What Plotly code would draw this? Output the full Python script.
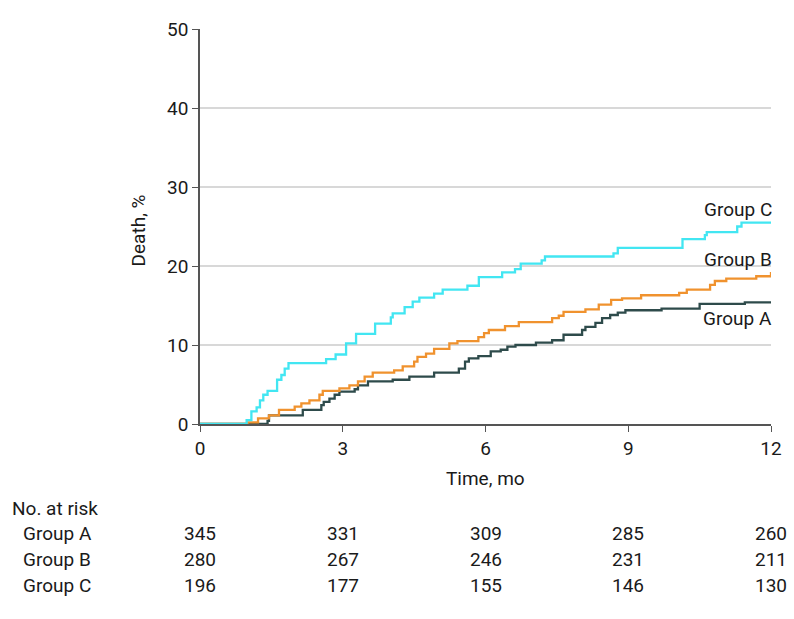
import plotly.graph_objects as go

# ---- data ----
time_a = [0, 1.42, 1.45, 2.16, 2.55, 2.60, 2.72, 2.83, 2.93, 3.25, 3.32, 3.53, 4.05, 4.40,
          4.92, 5.44, 5.57, 5.65, 5.85, 6.11, 6.32, 6.46, 6.63, 7.06, 7.40, 7.64, 8.03,
          8.10, 8.31, 8.45, 8.62, 8.78, 8.94, 9.70, 10.50, 11.45, 12.04]
death_a = [0, 0.4, 1.1, 1.8, 2.4, 2.8, 3.2, 3.7, 4.1, 4.4, 4.9, 5.4, 5.6, 6.0,
           6.5, 7.0, 7.9, 8.3, 8.6, 9.2, 9.4, 9.8, 10.0, 10.3, 10.6, 11.3, 11.9,
           12.3, 12.8, 13.4, 13.8, 14.1, 14.4, 14.6, 15.2, 15.4, 15.4]

time_b = [0, 1.00, 1.22, 1.45, 1.66, 1.99, 2.13, 2.30, 2.51, 2.58, 2.93, 3.14, 3.32, 3.46,
          3.63, 4.08, 4.26, 4.50, 4.57, 4.75, 4.92, 5.24, 5.41, 5.85, 5.97, 6.07, 6.41,
          6.70, 7.40, 7.54, 7.64, 8.10, 8.38, 8.64, 8.87, 9.27, 10.07, 10.23, 10.72,
          10.82, 11.06, 11.69, 12.00, 12.04]
death_b = [0, 0.2, 0.7, 1.1, 1.8, 2.2, 2.6, 3.0, 3.7, 4.2, 4.5, 4.9, 5.4, 6.0,
           6.5, 6.8, 7.3, 7.9, 8.5, 8.9, 9.5, 10.2, 10.5, 11.0, 11.5, 11.9, 12.4,
           12.9, 13.4, 13.7, 14.2, 14.5, 15.1, 15.7, 15.9, 16.3, 16.6, 17.0, 17.6,
           18.1, 18.4, 18.7, 19.1, 19.1]

time_c = [0, 0.98, 1.08, 1.19, 1.26, 1.33, 1.42, 1.62, 1.71, 1.78, 1.86, 2.65, 2.85, 3.07,
          3.28, 3.68, 4.01, 4.05, 4.30, 4.47, 4.61, 4.92, 5.10, 5.62, 5.86, 6.35, 6.62,
          6.74, 7.18, 7.25, 8.69, 8.78, 10.14, 10.61, 10.65, 11.29, 11.38, 12.04]
death_c = [0, 0.5, 1.6, 2.1, 3.0, 3.7, 4.2, 5.6, 6.2, 7.0, 7.7, 8.2, 8.8, 10.2,
           11.4, 12.7, 13.5, 14.0, 14.8, 15.5, 16.0, 16.5, 17.0, 17.5, 18.6, 19.2, 19.6,
           20.3, 20.7, 21.2, 21.6, 22.3, 23.4, 23.9, 24.3, 25.0, 25.5, 25.5]

groups = ["Group A", "Group B", "Group C"]
risk_times = [0, 3, 6, 9, 12]
risk_a = [345, 331, 309, 285, 260]
risk_b = [280, 267, 246, 231, 211]
risk_c = [196, 177, 155, 146, 130]
x_ticks = [0, 3, 6, 9, 12]
y_ticks = [0, 10, 20, 30, 40, 50]

# ---- styling ----
FONT = "Roboto"
FS = 19
TXT = "#1a1a1a"
colors = ["#2E4B4B", "#F0922E", "#42E6F2"]

W, H = 794, 619
L, R, T, B = 200, 19, 29, 195
PW, PH = W - L - R, H - T - B


def py_to_paper(py):
    return (H - B - py) / PH


def px_to_paper(px):
    return (px - L) / PW


fig = go.Figure()
series = [(time_a, death_a), (time_b, death_b), (time_c, death_c)]
for name, (t, d), col in zip(groups, series, colors):
    fig.add_trace(go.Scatter(x=t, y=d, mode="lines", name=name,
                             line=dict(color=col, width=2.3, shape="hv"),
                             cliponaxis=False, showlegend=False))

annotations = []
# curve labels
label_y = [13.4, 20.8, 27.2]
for name, ly in zip(groups, label_y):
    annotations.append(dict(x=12, y=ly, xref="x", yref="y", text=name,
                            xanchor="right", yanchor="middle", showarrow=False,
                            xshift=3,
                            font=dict(family=FONT, size=FS, color=TXT)))

# axis titles
annotations.append(dict(x=px_to_paper(138), y=py_to_paper(230), xref="paper", yref="paper",
                        text="Death, %", textangle=-90, showarrow=False,
                        xanchor="center", yanchor="middle",
                        font=dict(family=FONT, size=FS, color=TXT)))
annotations.append(dict(x=0.5, y=py_to_paper(478), xref="paper", yref="paper",
                        text="Time, mo", showarrow=False,
                        xanchor="center", yanchor="middle",
                        font=dict(family=FONT, size=FS, color=TXT)))

# number at risk table
annotations.append(dict(x=px_to_paper(9), y=py_to_paper(508), xref="paper", yref="paper",
                        text="No. at risk", showarrow=False, xanchor="left", yanchor="middle",
                        font=dict(family=FONT, size=FS, color=TXT)))
row_y = [533, 559, 585]
for name, vals, ry in zip(groups, [risk_a, risk_b, risk_c], row_y):
    annotations.append(dict(x=px_to_paper(20), y=py_to_paper(ry), xref="paper", yref="paper",
                            text=name, showarrow=False, xanchor="left", yanchor="middle",
                            font=dict(family=FONT, size=FS, color=TXT)))
    for tt, v in zip(risk_times, vals):
        annotations.append(dict(x=tt, y=py_to_paper(ry), xref="x", yref="paper",
                                text=str(v), showarrow=False, xanchor="center",
                                yanchor="middle",
                                font=dict(family=FONT, size=FS, color=TXT)))

fig.update_layout(
    width=W, height=H,
    margin=dict(l=L, r=R, t=T, b=B, pad=0),
    paper_bgcolor="white", plot_bgcolor="white",
    font=dict(family=FONT, size=FS, color=TXT),
    annotations=annotations,
    xaxis=dict(range=[0, 12], tickvals=x_ticks, ticktext=[str(v) for v in x_ticks],
               showgrid=False, zeroline=False, showline=True, linecolor="#555555",
               linewidth=1.5, ticks="outside", ticklen=6, tickcolor="#555555",
               tickwidth=1.2, tickfont=dict(family=FONT, size=FS, color=TXT)),
    yaxis=dict(range=[0, 50], tickvals=y_ticks, ticktext=[str(v) for v in y_ticks],
               showgrid=True, gridcolor="#D8D8D8", gridwidth=1.5, zeroline=False,
               showline=True, linecolor="#555555", linewidth=1.5, ticks="outside",
               ticklen=6, tickcolor="#555555", tickwidth=1.2,
               tickfont=dict(family=FONT, size=FS, color=TXT)),
)

fig.write_html(
    "out.html",
    config={"displayModeBar": False},
    post_script="document.body.style.margin='0';document.body.style.overflow='hidden';",
)
